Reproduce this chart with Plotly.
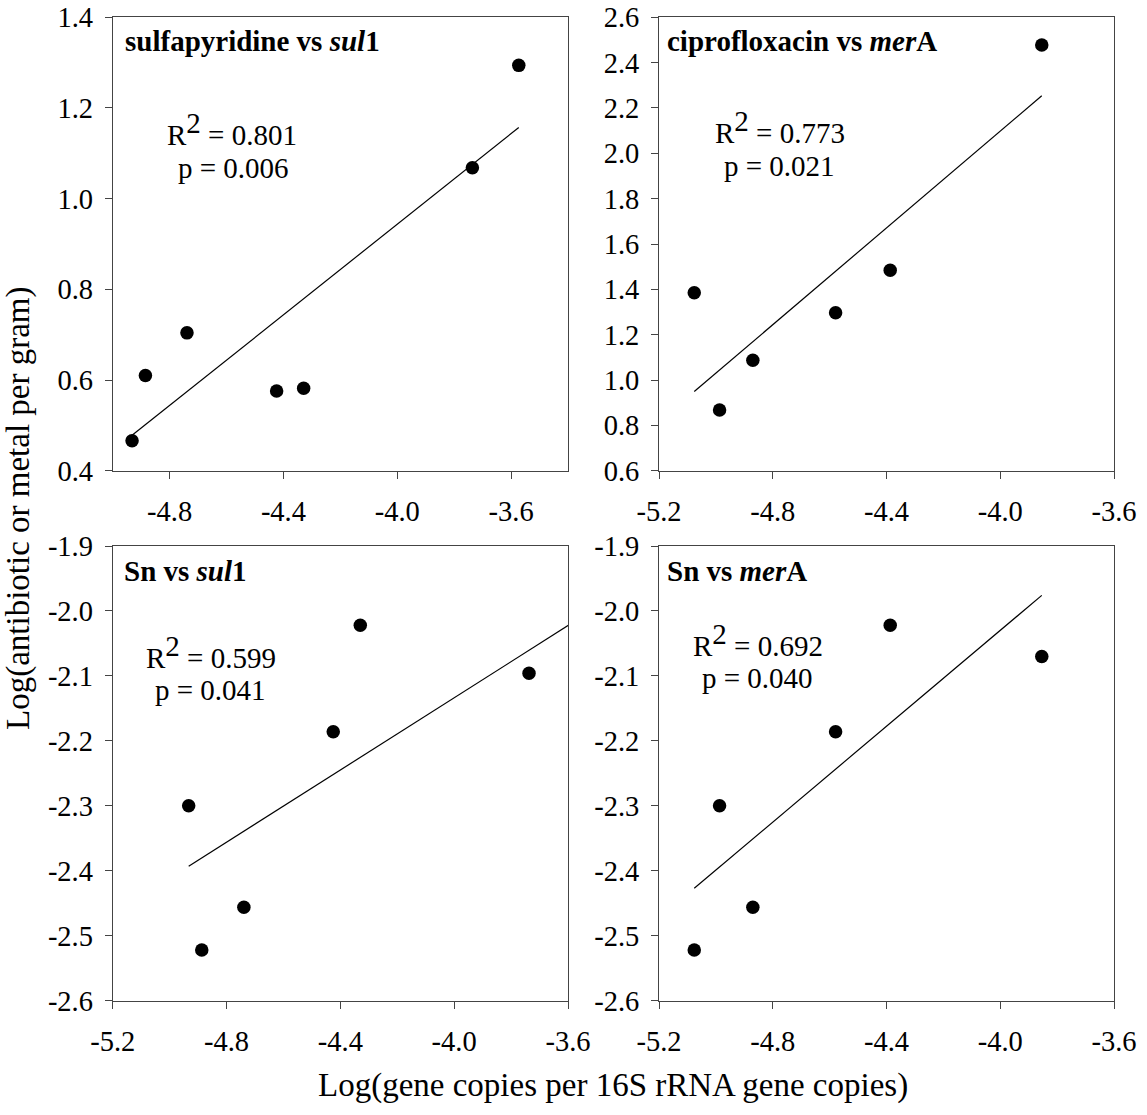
import plotly.graph_objects as go

# ---------------- data ----------------
p1_x = [-4.932, -4.885, -4.739, -4.424, -4.329, -3.736, -3.573]
p1_y = [0.466, 0.610, 0.704, 0.576, 0.582, 1.068, 1.294]
p1_fit_x = [-4.932, -3.573]
p1_fit_y = [0.478, 1.157]

p2_x = [-5.076, -4.987, -4.870, -4.579, -4.387, -3.854]
p2_y = [1.385, 0.868, 1.087, 1.297, 1.484, 2.478]
p2_fit_x = [-5.076, -3.854]
p2_fit_y = [0.949, 2.254]

p3_x = [-4.933, -4.887, -4.739, -4.425, -4.330, -3.737]
p3_y = [-2.300, -2.522, -2.456, -2.186, -2.022, -2.096]
p3_fit_x = [-4.933, -3.573]
p3_fit_y = [-2.393, -2.015]

p4_x = [-5.076, -4.987, -4.870, -4.579, -4.387, -3.854]
p4_y = [-2.522, -2.300, -2.456, -2.186, -2.022, -2.070]
p4_fit_x = [-5.076, -3.854]
p4_fit_y = [-2.427, -1.976]

panel_titles = ["sulfapyridine vs <i>sul</i>1", "ciprofloxacin vs <i>mer</i>A",
                "Sn vs <i>sul</i>1", "Sn vs <i>mer</i>A"]
r2_values = ["0.801", "0.773", "0.599", "0.692"]
p_values = ["0.006", "0.021", "0.041", "0.040"]

x_ranges = [[-5.0, -3.4], [-5.2, -3.6], [-5.2, -3.6], [-5.2, -3.6]]
x_ticks = [[-4.8, -4.4, -4.0, -3.6], [-5.2, -4.8, -4.4, -4.0, -3.6],
           [-5.2, -4.8, -4.4, -4.0, -3.6], [-5.2, -4.8, -4.4, -4.0, -3.6]]
y_ranges = [[0.4, 1.4], [0.6, 2.6], [-2.6, -1.9], [-2.6, -1.9]]
y_ticks = [[0.4, 0.6, 0.8, 1.0, 1.2, 1.4],
           [0.6, 0.8, 1.0, 1.2, 1.4, 1.6, 1.8, 2.0, 2.2, 2.4, 2.6],
           [-2.6, -2.5, -2.4, -2.3, -2.2, -2.1, -2.0, -1.9],
           [-2.6, -2.5, -2.4, -2.3, -2.2, -2.1, -2.0, -1.9]]

x_title = "Log(gene copies per 16S rRNA gene copies)"
y_title = "Log(antibiotic or metal per gram)"

# ---------------- figure ----------------
W, H = 1147, 1115
FONT = "Liberation Serif, Times New Roman, serif"
FS_TICK = 28.5
FS_TXT = 29
FS_AXT = 33
AX = "#444444"

xs = [p1_x, p2_x, p3_x, p4_x]
ys = [p1_y, p2_y, p3_y, p4_y]
fxs = [p1_fit_x, p2_fit_x, p3_fit_x, p4_fit_x]
fys = [p1_fit_y, p2_fit_y, p3_fit_y, p4_fit_y]

# panel boxes in pixels: left, right, top, bottom
boxes = [(112.7, 568.0, 17.3, 470.7), (659.0, 1114.0, 17.3, 470.7),
         (112.7, 568.0, 546.0, 1000.7), (659.0, 1114.0, 546.0, 1000.7)]

fig = go.Figure()
layout = dict(width=W, height=H, margin=dict(l=0, r=0, t=0, b=0, autoexpand=False),
              template="none",
              paper_bgcolor="white", plot_bgcolor="white", showlegend=False,
              font=dict(family=FONT, size=FS_TXT, color="black"))

for i in range(4):
    sfx = "" if i == 0 else str(i + 1)
    xa, ya = "x" + sfx, "y" + sfx
    fig.add_trace(go.Scatter(x=fxs[i], y=fys[i], mode="lines", xaxis=xa, yaxis=ya,
                             line=dict(color="black", width=1.2), hoverinfo="skip"))
    fig.add_trace(go.Scatter(x=xs[i], y=ys[i], mode="markers", xaxis=xa, yaxis=ya,
                             marker=dict(color="black", size=13.5)))
    l, r, t, b = boxes[i]
    common = dict(showline=True, linecolor=AX, linewidth=1, mirror=True,
                  ticks="outside", ticklen=7, tickcolor=AX, tickwidth=1,
                  showgrid=False, zeroline=False, automargin=False,
                  tickfont=dict(family=FONT, size=FS_TICK, color="black"))
    layout["xaxis" + sfx] = dict(common, domain=[l / W, r / W], range=x_ranges[i],
                                 tickvals=x_ticks[i],
                                 ticktext=[f"{v:.1f}" for v in x_ticks[i]],
                                 anchor=ya, ticklabelstandoff=8)
    layout["yaxis" + sfx] = dict(common, domain=[(H - b) / H, (H - t) / H],
                                 range=y_ranges[i], tickvals=y_ticks[i],
                                 ticktext=[f"{v:.1f}" for v in y_ticks[i]],
                                 anchor=xa, ticklabelstandoff=6)

# text positions in pixels (from the reference)
title_px = [(124, 41), (666, 41), (123, 571), (666, 571)]
r2_px = [(232, 129), (780, 127), (211, 652), (758, 640)]
pv_px = [(233, 168), (779, 166), (210, 690), (758, 678)]

ann = []
for i in range(4):
    ann.append(dict(xref="paper", yref="paper",
                    x=title_px[i][0] / W, y=(H - title_px[i][1]) / H,
                    xanchor="left", yanchor="middle", borderpad=0,
                    text="<b>" + panel_titles[i] + "</b>", showarrow=False,
                    font=dict(family=FONT, size=FS_TXT, color="black")))
    ann.append(dict(xref="paper", yref="paper",
                    x=r2_px[i][0] / W, y=(H - r2_px[i][1]) / H,
                    xanchor="center", yanchor="middle", borderpad=0,
                    text=f"R<sup><span style='font-size:{FS_TXT}px'>2</span></sup> = {r2_values[i]}",
                    showarrow=False, font=dict(family=FONT, size=FS_TXT, color="black")))
    ann.append(dict(xref="paper", yref="paper",
                    x=pv_px[i][0] / W, y=(H - pv_px[i][1]) / H,
                    xanchor="center", yanchor="middle", borderpad=0,
                    text=f"p = {p_values[i]}",
                    showarrow=False, font=dict(family=FONT, size=FS_TXT, color="black")))

ann.append(dict(xref="paper", yref="paper", x=613 / W, y=(H - 1085) / H,
                xanchor="center", yanchor="middle", text=x_title, showarrow=False,
                borderpad=0, font=dict(family=FONT, size=FS_AXT, color="black")))
ann.append(dict(xref="paper", yref="paper", x=18 / W, y=(H - 508) / H,
                xanchor="center", yanchor="middle", text=y_title, textangle=-90,
                borderpad=0, showarrow=False,
                font=dict(family=FONT, size=FS_AXT, color="black")))
layout["annotations"] = ann
fig.update_layout(**layout)
fig.write_html("out.html", config={"displayModeBar": False},
               post_script="document.body.style.margin='0';document.body.style.overflow='hidden';")
